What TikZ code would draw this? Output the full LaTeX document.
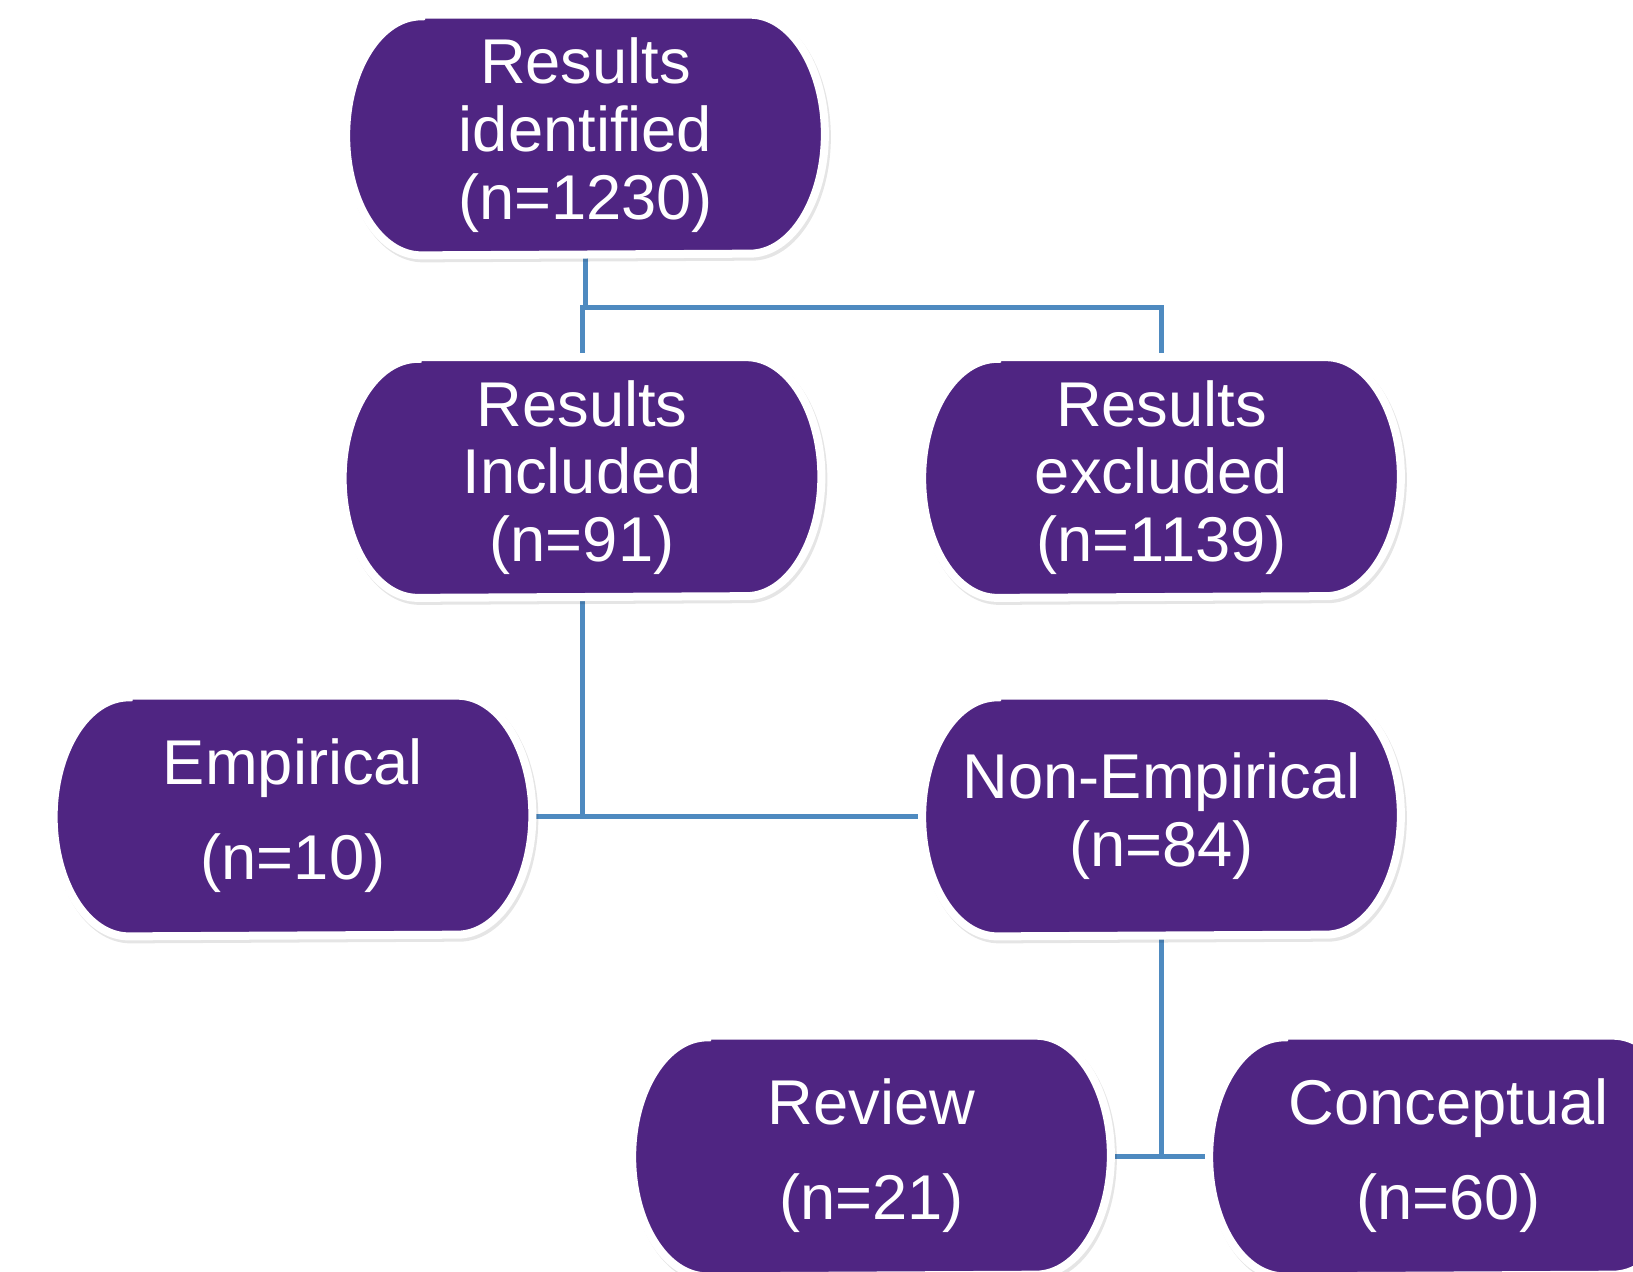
\documentclass[tikz,border=0pt]{standalone}
\usepackage{fontspec}
\setmainfont{Liberation Sans}
\usetikzlibrary{backgrounds}
\definecolor{respurple}{HTML}{4F2582}
\definecolor{linkblue}{HTML}{4E8AC0}
\newcommand\blobpath[1]{([xshift=1.5cm]#1.north west) -- ([xshift=-1.5cm]#1.north east)
    arc[start angle=90,end angle=-90,x radius=1.5cm,y radius=2.39cm]
    -- ([xshift=1.5cm]#1.south west)
    arc[start angle=270,end angle=90,x radius=1.5cm,y radius=2.39cm] -- cycle}
\tikzset{
  res/.style={minimum width=9.56cm,minimum height=4.8cm,inner sep=0pt,
    align=center,text=white,font=\fontsize{36pt}{38.5pt}\selectfont},
  blob/.style={fill=respurple,draw=white,line width=0.16cm},
  blobshade/.style={fill=black,draw=black,line width=0.16cm,opacity=0.1,
    transform canvas={shift={(0.04cm,-0.06cm)}}},
  link/.style={draw=linkblue,line width=0.1cm}
}
\begin{document}
\begin{tikzpicture}
\useasboundingbox (0,0) rectangle (32.66,-25.42);
\node[res] (ident)   at (11.71,-2.70)  {Results\\identified\\(n=1230)};
\node[res] (incl)    at (11.64,-9.55)  {Results\\Included\\(n=91)};
\node[res] (excl)    at (23.23,-9.55)  {Results\\excluded\\(n=1139)};
\node[res] (emp)     at (5.86,-16.32)  {Empirical\\[0.55cm](n=10)};
\node[res] (nonemp)  at (23.23,-16.32) {Non-Empirical\\(n=84)};
\node[res] (review)  at (17.43,-23.12) {Review\\[0.55cm](n=21)};
\node[res] (concept) at (28.97,-23.12) {Conceptual\\[0.55cm](n=60)};
\coordinate (split) at (11.7,-6.14);
\begin{pgfonlayer}{background}
  \draw[link] (ident.south) -- (ident.south |- split);
  \draw[link] (incl.north) |- (split -| excl.north) -- (excl.north);
  \draw[link] (incl.south) -- (incl.south |- emp.east);
  \draw[link] (emp.east) -- (nonemp.west);
  \draw[link] (nonemp.south) -- (nonemp.south |- review.east);
  \draw[link] (review.east) -- (concept.west);
  \foreach \n in {ident,incl,excl,emp,nonemp,review,concept}{
    \path[blobshade] \blobpath{\n};
    \path[blob] \blobpath{\n};
  }
\end{pgfonlayer}
\end{tikzpicture}
\end{document}
